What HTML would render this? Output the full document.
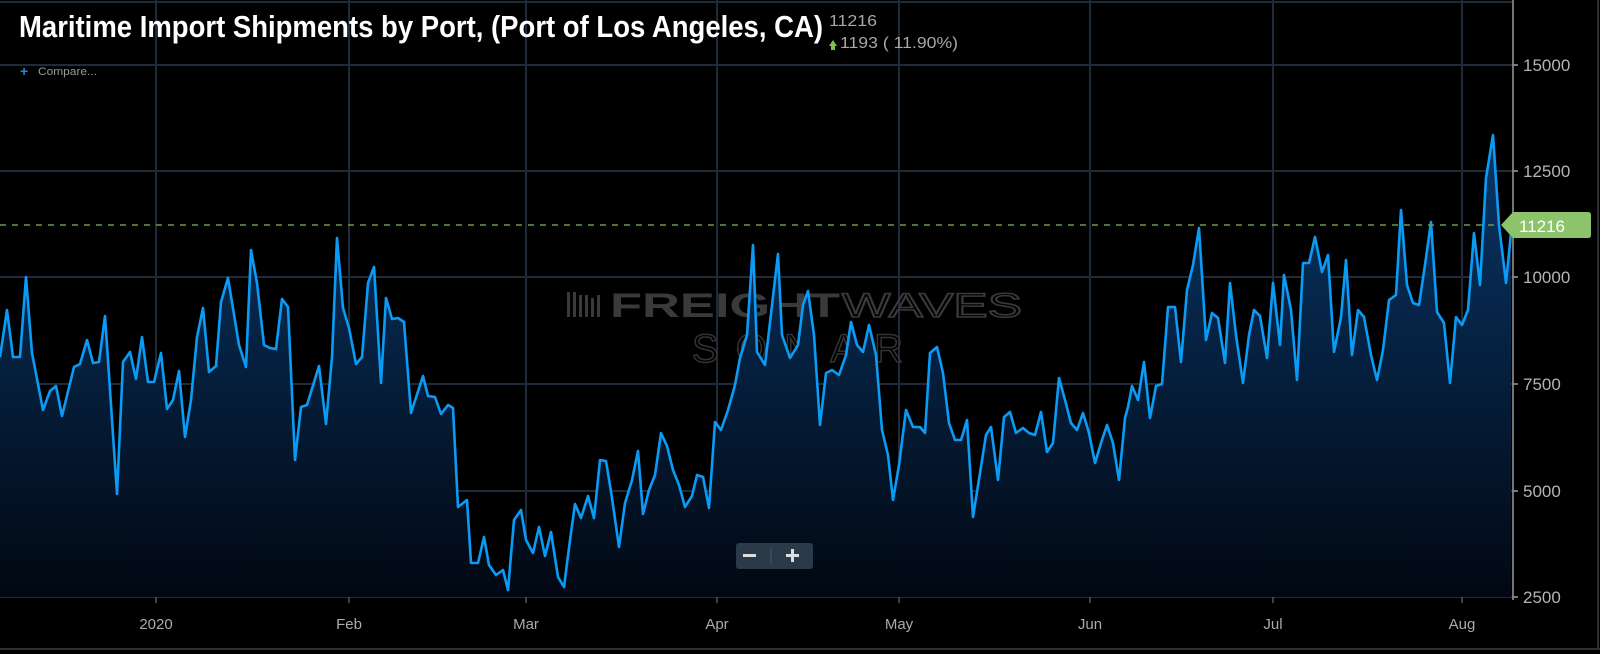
<!DOCTYPE html>
<html><head><meta charset="utf-8"><style>
html,body{margin:0;padding:0;background:#000;}
svg{display:block;}
text{font-family:"Liberation Sans",sans-serif;}
</style></head><body>
<svg width="1600" height="654" viewBox="0 0 1600 654" xmlns="http://www.w3.org/2000/svg">
<defs>
<linearGradient id="g" gradientUnits="userSpaceOnUse" x1="0" y1="140" x2="0" y2="597">
<stop offset="0" stop-color="#0a3766"/>
<stop offset="0.35" stop-color="#06264a"/>
<stop offset="1" stop-color="#020812"/>
</linearGradient>
</defs>
<rect width="1600" height="654" fill="#000"/>
<g stroke="#1f2b3a" stroke-width="2">
<line x1="0" y1="2" x2="1513" y2="2"/>
<line x1="0" y1="65" x2="1513" y2="65"/>
<line x1="0" y1="171" x2="1513" y2="171"/>
<line x1="0" y1="277" x2="1513" y2="277"/>
<line x1="0" y1="384" x2="1513" y2="384"/>
<line x1="0" y1="491" x2="1513" y2="491"/>
<line x1="0" y1="597" x2="1513" y2="597"/>
<line x1="156" y1="0" x2="156" y2="597"/>
<line x1="349" y1="0" x2="349" y2="597"/>
<line x1="526" y1="0" x2="526" y2="597"/>
<line x1="717" y1="0" x2="717" y2="597"/>
<line x1="899" y1="0" x2="899" y2="597"/>
<line x1="1090" y1="0" x2="1090" y2="597"/>
<line x1="1273" y1="0" x2="1273" y2="597"/>
<line x1="1462" y1="0" x2="1462" y2="597"/>
</g>
<g fill="#3a3a3a">
<g transform="translate(567,292)">
<rect x="0" y="0" width="3" height="25"/><rect x="6" y="0" width="3" height="25"/><rect x="12" y="3" width="3" height="22"/><rect x="18" y="3" width="3" height="22"/><rect x="24" y="6" width="3" height="19"/><rect x="30" y="3" width="3" height="22"/>
</g>
<text x="610" y="317" font-size="34" font-weight="bold" textLength="230" lengthAdjust="spacingAndGlyphs">FREIGHT</text>
<text x="842" y="317" font-size="34" textLength="180" lengthAdjust="spacingAndGlyphs" fill="none" stroke="#3a3a3a" stroke-width="1.5">WAVES</text>
<text x="692" y="362" font-size="40" textLength="211" lengthAdjust="spacing" fill="none" stroke="#333" stroke-width="1.5">SONAR</text>
</g>
<path fill="url(#g)" d="M0,597 L0,357 7,310 13,357 20,357 26,277 32,353 43,410 50,391 56,386 62,416 74,367 80,364 87,340 93,363 99,362 105,316 117,494 123,362 130,352 136,379 142,337 148,382 154,382 161,353 167,409 173,400 179,371 185,437 191,400 197,337 203,308 209,372 216,366 221,302 228,278 239,345 246,367 251,250 257,283 264,345 270,348 276,349 282,299 288,307 295,460 301,407 307,405 319,366 326,424 332,357 337,238 343,308 349,328 356,364 362,357 368,283 374,267 381,383 386,298 392,319 398,318 404,322 411,413 423,376 428,396 435,397 441,414 448,405 453,408 458,507 467,500 471,563 478,563 484,537 489,565 496,575 503,570 508,590 514,520 521,510 526,540 533,553 539,527 545,556 551,532 558,577 564,587 570,540 575,504 581,518 588,496 594,518 600,460 606,461 612,498 619,547 625,503 632,480 638,451 643,514 649,490 655,475 661,433 667,446 673,470 679,485 685,507 692,496 697,475 703,477 709,508 715,422 721,430 728,410 735,385 740,358 747,335 753,245 757,352 765,365 778,254 782,335 790,358 798,345 803,305 808,291 814,335 820,425 826,373 832,370 839,375 846,355 851,322 857,345 863,352 869,325 876,355 882,430 888,455 893,500 899,465 906,410 913,427 920,427 925,433 930,353 937,347 943,373 949,423 955,440 961,440 967,420 973,517 980,473 986,435 991,427 998,480 1004,417 1010,412 1016,433 1023,428 1029,433 1035,435 1041,412 1047,452 1053,443 1059,378 1065,400 1071,423 1077,430 1083,413 1089,433 1095,463 1101,443 1107,425 1113,443 1119,480 1125,418 1128,407 1132,386 1138,400 1144,362 1150,418 1156,386 1162,384 1168,307 1175,307 1181,362 1187,290 1193,265 1199,228 1206,340 1212,313 1218,318 1225,363 1230,283 1236,335 1243,383 1249,335 1254,310 1260,316 1267,358 1273,283 1280,345 1284,275 1291,310 1297,380 1303,263 1309,263 1315,237 1322,272 1328,255 1334,352 1341,317 1346,260 1352,355 1358,310 1364,317 1371,355 1377,380 1383,350 1389,300 1396,295 1401,210 1407,285 1413,303 1419,305 1425,265 1431,222 1437,312 1444,323 1450,383 1456,317 1462,325 1468,310 1474,233 1480,285 1486,178 1493,135 1499,225 1506,283 1511,233 L1511,597 Z"/>
<polyline fill="none" stroke="#0a9bf5" stroke-width="2.6" stroke-linejoin="round" points="0,357 7,310 13,357 20,357 26,277 32,353 43,410 50,391 56,386 62,416 74,367 80,364 87,340 93,363 99,362 105,316 117,494 123,362 130,352 136,379 142,337 148,382 154,382 161,353 167,409 173,400 179,371 185,437 191,400 197,337 203,308 209,372 216,366 221,302 228,278 239,345 246,367 251,250 257,283 264,345 270,348 276,349 282,299 288,307 295,460 301,407 307,405 319,366 326,424 332,357 337,238 343,308 349,328 356,364 362,357 368,283 374,267 381,383 386,298 392,319 398,318 404,322 411,413 423,376 428,396 435,397 441,414 448,405 453,408 458,507 467,500 471,563 478,563 484,537 489,565 496,575 503,570 508,590 514,520 521,510 526,540 533,553 539,527 545,556 551,532 558,577 564,587 570,540 575,504 581,518 588,496 594,518 600,460 606,461 612,498 619,547 625,503 632,480 638,451 643,514 649,490 655,475 661,433 667,446 673,470 679,485 685,507 692,496 697,475 703,477 709,508 715,422 721,430 728,410 735,385 740,358 747,335 753,245 757,352 765,365 778,254 782,335 790,358 798,345 803,305 808,291 814,335 820,425 826,373 832,370 839,375 846,355 851,322 857,345 863,352 869,325 876,355 882,430 888,455 893,500 899,465 906,410 913,427 920,427 925,433 930,353 937,347 943,373 949,423 955,440 961,440 967,420 973,517 980,473 986,435 991,427 998,480 1004,417 1010,412 1016,433 1023,428 1029,433 1035,435 1041,412 1047,452 1053,443 1059,378 1065,400 1071,423 1077,430 1083,413 1089,433 1095,463 1101,443 1107,425 1113,443 1119,480 1125,418 1128,407 1132,386 1138,400 1144,362 1150,418 1156,386 1162,384 1168,307 1175,307 1181,362 1187,290 1193,265 1199,228 1206,340 1212,313 1218,318 1225,363 1230,283 1236,335 1243,383 1249,335 1254,310 1260,316 1267,358 1273,283 1280,345 1284,275 1291,310 1297,380 1303,263 1309,263 1315,237 1322,272 1328,255 1334,352 1341,317 1346,260 1352,355 1358,310 1364,317 1371,355 1377,380 1383,350 1389,300 1396,295 1401,210 1407,285 1413,303 1419,305 1425,265 1431,222 1437,312 1444,323 1450,383 1456,317 1462,325 1468,310 1474,233 1480,285 1486,178 1493,135 1499,225 1506,283 1511,233"/>
<line x1="0" y1="225" x2="1500" y2="225" stroke="#6f9a4a" stroke-width="1.5" stroke-dasharray="6,6"/>
<line x1="1513" y1="0" x2="1513" y2="600" stroke="#9a9a9a" stroke-width="1.5"/>
<g stroke="#9a9a9a" stroke-width="1.5">
<line x1="1513" y1="65" x2="1518" y2="65"/><line x1="1513" y1="171" x2="1518" y2="171"/><line x1="1513" y1="277" x2="1518" y2="277"/><line x1="1513" y1="384" x2="1518" y2="384"/><line x1="1513" y1="491" x2="1518" y2="491"/><line x1="1513" y1="597" x2="1518" y2="597"/>
</g>
<g stroke="#555" stroke-width="1.5">
<line x1="156" y1="597" x2="156" y2="603"/><line x1="349" y1="597" x2="349" y2="603"/><line x1="526" y1="597" x2="526" y2="603"/><line x1="717" y1="597" x2="717" y2="603"/><line x1="899" y1="597" x2="899" y2="603"/><line x1="1090" y1="597" x2="1090" y2="603"/><line x1="1273" y1="597" x2="1273" y2="603"/><line x1="1462" y1="597" x2="1462" y2="603"/>
</g>
<g fill="#b4b4b4" font-size="17">
<text x="1523" y="71">15000</text>
<text x="1523" y="177">12500</text>
<text x="1523" y="283">10000</text>
<text x="1523" y="390">7500</text>
<text x="1523" y="497">5000</text>
<text x="1523" y="603">2500</text>
</g>
<g fill="#aaa" font-size="15" text-anchor="middle">
<text x="156" y="629">2020</text>
<text x="349" y="629">Feb</text>
<text x="526" y="629">Mar</text>
<text x="717" y="629">Apr</text>
<text x="899" y="629">May</text>
<text x="1090" y="629">Jun</text>
<text x="1273" y="629">Jul</text>
<text x="1462" y="629">Aug</text>
</g>
<path d="M1501,225 L1513,212 L1588,212 Q1591,212 1591,215 L1591,235 Q1591,238 1588,238 L1513,238 Z" fill="#8cc36b"/>
<text x="1519" y="232" font-size="17" fill="#fff">11216</text>
<line x1="1598" y1="0" x2="1598" y2="650" stroke="#2a2f36" stroke-width="2"/>
<line x1="0" y1="649" x2="1600" y2="649" stroke="#2a2f36" stroke-width="2"/>
<text x="19" y="37" font-size="31" font-weight="bold" fill="#fff" font-family="'Liberation Sans Narrow','Liberation Sans',sans-serif" textLength="804" lengthAdjust="spacingAndGlyphs">Maritime Import Shipments by Port, (Port of Los Angeles, CA)</text>
<text x="829" y="26" font-size="16" fill="#a8a8a8" textLength="48" lengthAdjust="spacingAndGlyphs">11216</text>
<path d="M829,46 L833,40 L837,46 L835,46 L835,50 L831,50 L831,46 Z" fill="#7dc24b"/>
<text x="840" y="48" font-size="16" fill="#a8a8a8" textLength="118" lengthAdjust="spacingAndGlyphs">1193 ( 11.90%)</text>
<text x="20" y="76" font-size="14" fill="#2f7fe0" font-weight="bold">+</text>
<text x="38" y="75" font-size="11" fill="#999" textLength="59" lengthAdjust="spacingAndGlyphs">Compare...</text>
<rect x="736" y="543" width="77" height="26" rx="3" fill="#2a3a48"/>
<rect x="743" y="554" width="13" height="3" fill="#ddd"/>
<line x1="771" y1="548" x2="771" y2="564" stroke="#45586a" stroke-width="1"/>
<rect x="786" y="554" width="13" height="3" fill="#ddd"/>
<rect x="791" y="549" width="3" height="13" fill="#ddd"/>
</svg>
</body></html>
